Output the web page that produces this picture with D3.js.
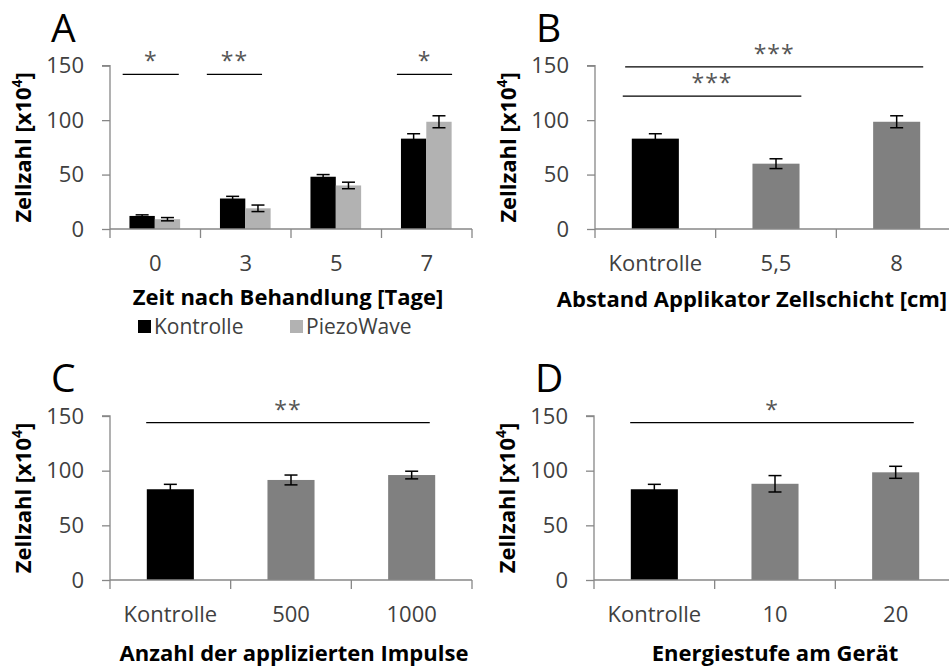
<!DOCTYPE html>
<html>
<head>
<meta charset="utf-8">
<script src="https://cdn.jsdelivr.net/npm/d3@7"></script>
<style>
  body { margin: 0; background: #fff; }
  svg { display: block; }
  text { font-family: "Open Sans", sans-serif; }
</style>
</head>
<body>
<svg id="fig" width="949" height="668"></svg>
<script>
// ---- data (cell counts, x10^4) ----
const yTicks = [0, 50, 100, 150];

// A: time course, two series
const daysA = ["0", "3", "5", "7"];
const seriesA = ["Kontrolle", "PiezoWave"];
const kontrolleA = [12, 28, 48, 83];
const kontrolleErrA = [1, 2, 2, 4.5];
const piezoA = [9, 19, 40, 98.5];
const piezoErrA = [1.5, 3, 3, 5.5];

// B: applicator distance
const catsB = ["Kontrolle", "5,5", "8"];
const valuesB = [83, 60, 98.5];
const errB = [4.5, 4.5, 5.5];

// C: number of pulses
const catsC = ["Kontrolle", "500", "1000"];
const valuesC = [83, 91.5, 96];
const errC = [4.5, 4.5, 3.5];

// D: energy level
const catsD = ["Kontrolle", "10", "20"];
const valuesD = [83, 88, 98.5];
const errD = [4.5, 7.5, 5.5];

// significance brackets: span in category units, height in data units
const sigA = [
  { from: 0.14, to: 0.76, at: 142, mark: "*" },
  { from: 1.07, to: 1.68, at: 142, mark: "**" },
  { from: 3.17, to: 3.78, at: 142, mark: "*" }
];
const sigB = [
  { from: 0.25, to: 2.72, at: 149, mark: "***" },
  { from: 0.23, to: 1.71, at: 122, mark: "***" }
];
const sigC = [{ from: 0.30, to: 2.65, at: 144, mark: "**" }];
const sigD = [{ from: 0.30, to: 2.65, at: 144, mark: "*" }];

// ---- styling ----
const AXIS = "#878787";
const TICKTXT = "#404040";
const BLACK = "#000000";
const LIGHT = "#b2b2b2";
const MID = "#808080";

const svg = d3.select("#fig");

function panel(opt) {
  const g = svg.append("g");
  const x = d3.scaleBand().domain(opt.cats).range([opt.x0, opt.x1]).padding(0);
  const y = d3.scaleLinear().domain([0, 150]).range([opt.yBottom, opt.yTop]);
  const bw = x.bandwidth();
  const xi = d3.scaleLinear().domain([0, opt.cats.length]).range([opt.x0, opt.x1]);

  // bars
  opt.bars.forEach(b => {
    g.append("rect")
      .attr("x", b.x).attr("width", b.w)
      .attr("y", y(b.v)).attr("height", y(0) - y(b.v))
      .attr("fill", b.fill);
  });

  // y axis
  const yAxis = d3.axisLeft(y).tickValues(yTicks).tickSize(8).tickPadding(18);
  const ya = g.append("g").attr("transform", `translate(${opt.x0},0)`).call(yAxis);
  ya.select(".domain").attr("stroke", AXIS).attr("stroke-width", 1.3).attr("d", `M-8,${opt.yTop}H0V${opt.yBottom}`);
  ya.selectAll(".tick line").attr("stroke", AXIS).attr("stroke-width", 1.3);
  ya.selectAll(".tick text").attr("fill", TICKTXT).attr("font-size", 22)
    .attr("font-family", "'Open Sans', sans-serif");

  // x axis: ticks on band boundaries
  const xa = g.append("g").attr("transform", `translate(0,${opt.yBottom})`);
  xa.append("line").attr("x1", opt.x0).attr("x2", opt.x1).attr("y1", 0).attr("y2", 0)
    .attr("stroke", AXIS).attr("stroke-width", 1.3);
  const bounds = opt.cats.map(c => x(c)).concat([opt.x1]);
  xa.selectAll("line.b").data(bounds).join("line").attr("class", "b")
    .attr("x1", d => d).attr("x2", d => d).attr("y1", 0).attr("y2", 9)
    .attr("stroke", AXIS).attr("stroke-width", 1.3);
  xa.selectAll("text.c").data(opt.cats).join("text").attr("class", "c")
    .attr("x", d => x(d) + bw / 2).attr("y", 42)
    .attr("text-anchor", "middle").attr("font-size", 22).attr("fill", TICKTXT)
    .text(d => d);

  // error bars
  opt.bars.forEach(b => {
    const cx = b.x + b.w / 2;
    const eg = g.append("g").attr("stroke", BLACK).attr("stroke-width", 1.5);
    eg.append("line").attr("x1", cx).attr("x2", cx).attr("y1", y(b.v - b.e)).attr("y2", y(b.v + b.e));
    [b.v - b.e, b.v + b.e].forEach(v => {
      eg.append("line").attr("x1", cx - 6.5).attr("x2", cx + 6.5).attr("y1", y(v)).attr("y2", y(v));
    });
  });

  // significance lines
  opt.sig.forEach(s => {
    g.append("line").attr("x1", xi(s.from)).attr("x2", xi(s.to))
      .attr("y1", y(s.at)).attr("y2", y(s.at))
      .attr("stroke", BLACK).attr("stroke-width", 1.3);
    g.append("text").attr("x", (xi(s.from) + xi(s.to)) / 2).attr("y", y(s.at) - 5)
      .attr("text-anchor", "middle").attr("font-size", 23).attr("fill", "#555")
      .attr("letter-spacing", 1)
      .text(s.mark);
  });

  // y title
  const yt = g.append("text")
    .attr("transform", `translate(${opt.x0 - 79},${(opt.yTop + opt.yBottom) / 2}) rotate(-90)`)
    .attr("text-anchor", "middle").attr("font-size", 22).attr("font-weight", "bold").attr("fill", BLACK);
  yt.append("tspan").text("Zellzahl [x10");
  yt.append("tspan").attr("font-size", 14).attr("dy", -9).text("4");
  yt.append("tspan").attr("dy", 9).text("]");

  // x title
  g.append("text").attr("x", opt.titleX).attr("y", opt.titleY)
    .attr("text-anchor", "middle").attr("font-size", 22).attr("font-weight", "bold").attr("fill", BLACK)
    .text(opt.title);

  // panel letter
  g.append("text").attr("x", opt.x0 - 59).attr("y", opt.yTop - 24)
    .attr("font-size", 39).attr("fill", BLACK).text(opt.letter);

  return { x, y, bw };
}

// helper to build single-series bars for a band scale
function singleBars(cats, vals, errs, x0, x1) {
  const x = d3.scaleBand().domain(cats).range([x0, x1]).padding(0);
  const bw = x.bandwidth();
  const w = bw * 0.39;
  return cats.map((c, i) => ({
    x: x(c) + (bw - w) / 2, w, v: vals[i], e: errs[i], fill: i === 0 ? BLACK : MID
  }));
}

// ---- A ----
{
  const x0 = 110, x1 = 472;
  const x = d3.scaleBand().domain(daysA).range([x0, x1]).padding(0);
  const bw = x.bandwidth();
  const xs = d3.scaleBand().domain(seriesA).range([bw * 0.215, bw * 0.775]);
  const bars = [];
  daysA.forEach((d, i) => {
    bars.push({ x: x(d) + xs("Kontrolle"), w: xs.bandwidth(), v: kontrolleA[i], e: kontrolleErrA[i], fill: BLACK });
    bars.push({ x: x(d) + xs("PiezoWave"), w: xs.bandwidth(), v: piezoA[i], e: piezoErrA[i], fill: LIGHT });
  });
  panel({ cats: daysA, x0, x1, yBottom: 229, yTop: 65.7, bars, sig: sigA,
          title: "Zeit nach Behandlung [Tage]", titleX: 288, titleY: 305, letter: "A" });

  // legend
  const lg = svg.append("g");
  const items = [{ name: seriesA[0], fill: BLACK, x: 138 }, { name: seriesA[1], fill: LIGHT, x: 290 }];
  items.forEach(it => {
    lg.append("rect").attr("x", it.x).attr("y", 320).attr("width", 13).attr("height", 13).attr("fill", it.fill);
    lg.append("text").attr("x", it.x + 16).attr("y", 334).attr("font-size", 21).attr("fill", TICKTXT).text(it.name);
  });
}

// ---- B ----
panel({ cats: catsB, x0: 595, x1: 957, yBottom: 229, yTop: 65.7,
        bars: singleBars(catsB, valuesB, errB, 595, 957), sig: sigB,
        title: "Abstand Applikator Zellschicht [cm]", titleX: 752, titleY: 307, letter: "B" });

// ---- C ----
panel({ cats: catsC, x0: 110, x1: 472, yBottom: 580, yTop: 416,
        bars: singleBars(catsC, valuesC, errC, 110, 472), sig: sigC,
        title: "Anzahl der applizierten Impulse", titleX: 294, titleY: 661, letter: "C" });

// ---- D ----
panel({ cats: catsD, x0: 594, x1: 956, yBottom: 580, yTop: 416,
        bars: singleBars(catsD, valuesD, errD, 594, 956), sig: sigD,
        title: "Energiestufe am Gerät", titleX: 775, titleY: 661, letter: "D" });
</script>
</body>
</html>
